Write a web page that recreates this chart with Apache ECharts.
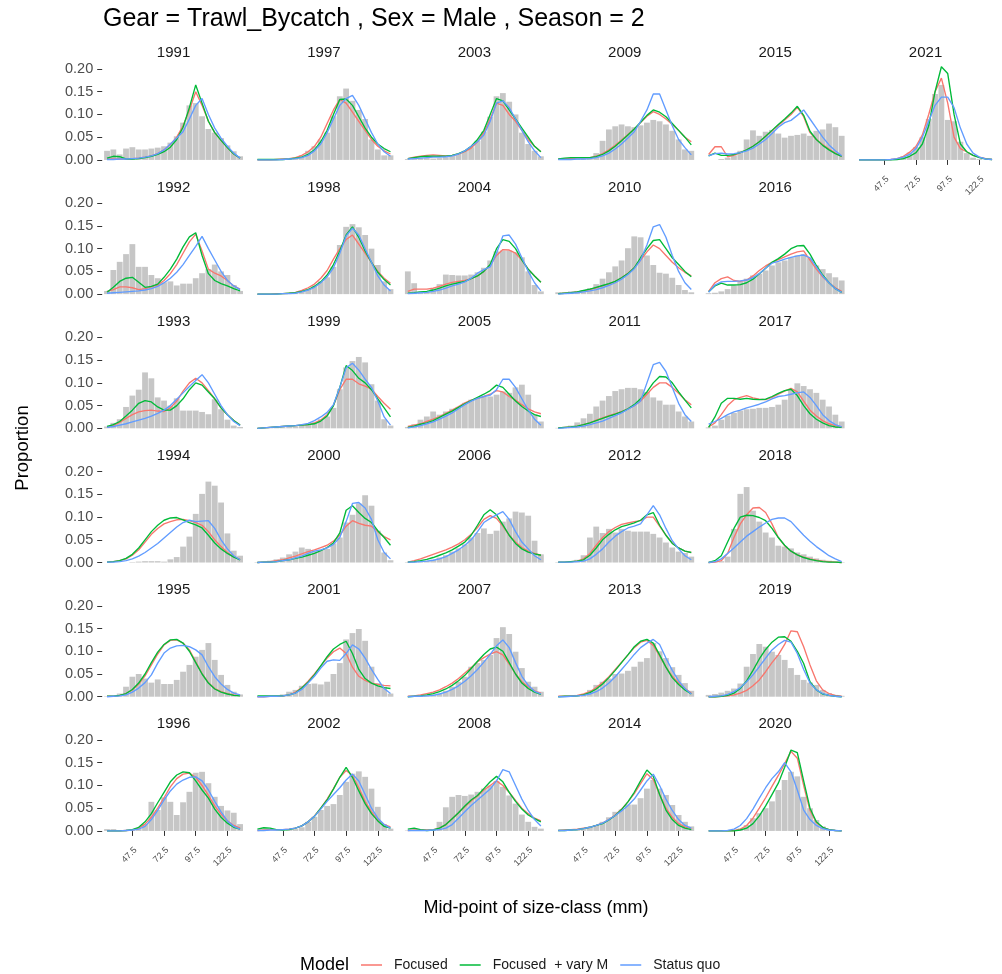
<!DOCTYPE html>
<html><head><meta charset="utf-8">
<script src="https://cdn.jsdelivr.net/npm/echarts@6/dist/echarts.min.js"></script>
<style>html,body{margin:0;padding:0;background:#fff}#c{width:1002px;height:974px}</style>
</head><body><div id="c"></div>
<script>
const sizeClasses = [27.5,32.5,37.5,42.5,47.5,52.5,57.5,62.5,67.5,72.5,77.5,82.5,87.5,92.5,97.5,102.5,107.5,112.5,117.5,122.5,127.5,132.5];
const xTickValues = [47.5,72.5,97.5,122.5];
const yTickValues = [0,0.05,0.10,0.15,0.20];
const modelNames = ['Focused','Focused  + vary M','Status quo'];
const modelColors = ['#F8766D','#00BA38','#619CFF'];

// ---- 1991 ----
const obs_1991 = [0.02,0.023,0.012,0.025,0.028,0.023,0.023,0.025,0.027,0.03,0.038,0.052,0.082,0.12,0.125,0.096,0.068,0.06,0.048,0.032,0.019,0.008];
const focused_1991 = [0.002,0.002,0.002,0.002,0.003,0.004,0.006,0.009,0.014,0.022,0.034,0.05,0.075,0.11,0.15,0.12,0.085,0.06,0.043,0.027,0.013,0.004];
const focusedM_1991 = [0.004,0.008,0.007,0.002,0.002,0.003,0.005,0.008,0.012,0.018,0.028,0.045,0.072,0.115,0.165,0.125,0.085,0.06,0.043,0.027,0.013,0.004];
const statusQuo_1991 = [0.001,0.001,0.002,0.002,0.003,0.004,0.006,0.009,0.014,0.022,0.035,0.048,0.062,0.09,0.12,0.135,0.1,0.07,0.048,0.03,0.015,0.004];
// ---- 1992 ----
const obs_1992 = [0.007,0.053,0.071,0.088,0.11,0.06,0.06,0.042,0.035,0.026,0.028,0.019,0.023,0.023,0.035,0.046,0.055,0.065,0.05,0.042,0.02,0.007];
const focused_1992 = [0.006,0.01,0.016,0.016,0.014,0.01,0.012,0.016,0.02,0.03,0.045,0.065,0.09,0.115,0.132,0.095,0.055,0.046,0.04,0.03,0.018,0.011];
const focusedM_1992 = [0.004,0.015,0.028,0.035,0.037,0.026,0.015,0.017,0.022,0.037,0.055,0.077,0.104,0.126,0.135,0.085,0.045,0.03,0.023,0.018,0.012,0.007];
const statusQuo_1992 = [0.002,0.003,0.004,0.005,0.006,0.007,0.009,0.012,0.017,0.025,0.035,0.048,0.065,0.085,0.105,0.127,0.1,0.075,0.05,0.03,0.018,0.01];
// ---- 1993 ----
const obs_1993 = [0.004,0.012,0.02,0.047,0.072,0.085,0.123,0.11,0.068,0.061,0.05,0.066,0.039,0.039,0.039,0.036,0.031,0.064,0.042,0.019,0.006,0.003];
const focused_1993 = [0.002,0.006,0.013,0.022,0.03,0.036,0.039,0.04,0.038,0.037,0.045,0.06,0.082,0.1,0.11,0.1,0.083,0.065,0.045,0.03,0.017,0.007];
const focusedM_1993 = [0.004,0.008,0.015,0.027,0.04,0.055,0.061,0.058,0.047,0.04,0.04,0.05,0.065,0.085,0.1,0.095,0.08,0.065,0.045,0.03,0.017,0.007];
const statusQuo_1993 = [0.002,0.004,0.007,0.01,0.014,0.018,0.022,0.027,0.033,0.04,0.05,0.064,0.078,0.092,0.105,0.118,0.1,0.075,0.05,0.03,0.015,0.006];
// ---- 1994 ----
const obs_1994 = [0,0,0,0,0.001,0.002,0.003,0.003,0.003,0.002,0.007,0.012,0.035,0.057,0.107,0.151,0.178,0.169,0.132,0.064,0.026,0.015];
const focused_1994 = [0.001,0.002,0.004,0.008,0.016,0.028,0.045,0.062,0.075,0.085,0.09,0.094,0.095,0.092,0.088,0.082,0.068,0.05,0.035,0.022,0.013,0.007];
const focusedM_1994 = [0.001,0.002,0.004,0.009,0.018,0.032,0.05,0.068,0.082,0.093,0.098,0.099,0.094,0.088,0.083,0.076,0.06,0.043,0.03,0.02,0.012,0.006];
const statusQuo_1994 = [0.001,0.001,0.002,0.004,0.008,0.014,0.022,0.032,0.042,0.054,0.066,0.078,0.088,0.093,0.09,0.091,0.092,0.075,0.05,0.03,0.015,0.006];
// ---- 1995 ----
const obs_1995 = [0.001,0.002,0.007,0.022,0.044,0.05,0.04,0.031,0.038,0.028,0.028,0.037,0.055,0.07,0.088,0.103,0.118,0.081,0.048,0.026,0.011,0.005];
const focused_1995 = [0.001,0.001,0.003,0.007,0.015,0.028,0.046,0.07,0.094,0.114,0.124,0.125,0.118,0.103,0.077,0.051,0.031,0.018,0.011,0.007,0.004,0.003];
const focusedM_1995 = [0.001,0.001,0.003,0.007,0.016,0.03,0.05,0.075,0.098,0.115,0.125,0.126,0.118,0.1,0.075,0.05,0.03,0.017,0.01,0.006,0.003,0.002];
const statusQuo_1995 = [0,0.001,0.002,0.004,0.01,0.019,0.031,0.048,0.074,0.096,0.107,0.112,0.113,0.11,0.103,0.092,0.066,0.044,0.028,0.016,0.008,0.004];
// ---- 1996 ----
const obs_1996 = [0.004,0.004,0.001,0.001,0.002,0.004,0.015,0.064,0.046,0.074,0.064,0.035,0.063,0.086,0.128,0.13,0.105,0.075,0.055,0.045,0.04,0.015];
const focused_1996 = [0,0,0,0.001,0.002,0.006,0.015,0.03,0.05,0.073,0.097,0.115,0.125,0.127,0.118,0.1,0.078,0.055,0.037,0.022,0.012,0.006];
const focusedM_1996 = [0,0,0,0.001,0.003,0.008,0.02,0.038,0.062,0.085,0.108,0.123,0.13,0.128,0.11,0.09,0.072,0.048,0.03,0.017,0.008,0.004];
const statusQuo_1996 = [0,0,0,0.001,0.002,0.004,0.01,0.025,0.045,0.068,0.088,0.103,0.112,0.118,0.119,0.11,0.09,0.065,0.042,0.022,0.01,0.004];
// ---- 1997 ----
const obs_1997 = [0,0,0,0,0.001,0.002,0.004,0.01,0.02,0.03,0.045,0.06,0.096,0.14,0.157,0.13,0.11,0.09,0.045,0.023,0.01,0.01];
const focused_1997 = [0,0,0,0.001,0.002,0.003,0.005,0.01,0.018,0.03,0.05,0.08,0.11,0.133,0.125,0.105,0.085,0.065,0.045,0.03,0.02,0.013];
const focusedM_1997 = [0.001,0.001,0.001,0.001,0.001,0.002,0.004,0.006,0.012,0.022,0.04,0.065,0.1,0.133,0.134,0.12,0.095,0.07,0.05,0.035,0.025,0.018];
const statusQuo_1997 = [0,0,0,0,0.001,0.002,0.003,0.005,0.01,0.02,0.035,0.06,0.09,0.12,0.135,0.142,0.12,0.09,0.06,0.035,0.018,0.008];
// ---- 1998 ----
const obs_1998 = [0,0,0,0,0,0.002,0.004,0.007,0.012,0.019,0.028,0.037,0.06,0.108,0.148,0.154,0.147,0.13,0.1,0.064,0.028,0.011];
const focused_1998 = [0,0,0,0.001,0.001,0.002,0.004,0.008,0.014,0.022,0.035,0.052,0.077,0.1,0.12,0.13,0.11,0.09,0.07,0.05,0.035,0.024];
const focusedM_1998 = [0,0,0,0,0.001,0.002,0.003,0.006,0.01,0.017,0.027,0.042,0.065,0.095,0.13,0.148,0.125,0.095,0.07,0.048,0.032,0.02];
const statusQuo_1998 = [0,0,0,0,0.001,0.001,0.002,0.005,0.009,0.015,0.025,0.038,0.058,0.09,0.128,0.145,0.13,0.1,0.07,0.04,0.02,0.007];
// ---- 1999 ----
const obs_1999 = [0,0,0.001,0.001,0.002,0.003,0.004,0.006,0.009,0.013,0.02,0.026,0.045,0.086,0.134,0.148,0.157,0.145,0.097,0.061,0.02,0.006];
const focused_1999 = [0,0.001,0.002,0.003,0.004,0.005,0.006,0.007,0.008,0.012,0.018,0.03,0.05,0.085,0.108,0.108,0.098,0.093,0.086,0.07,0.055,0.042];
const focusedM_1999 = [0,0.001,0.002,0.003,0.004,0.005,0.006,0.007,0.008,0.01,0.016,0.027,0.05,0.09,0.138,0.127,0.11,0.1,0.085,0.065,0.045,0.025];
const statusQuo_1999 = [0,0.001,0.002,0.003,0.004,0.005,0.006,0.008,0.011,0.017,0.025,0.035,0.052,0.09,0.133,0.143,0.128,0.108,0.09,0.06,0.025,0.007];
// ---- 2000 ----
const obs_2000 = [0.001,0.002,0.004,0.007,0.011,0.018,0.024,0.033,0.03,0.025,0.028,0.03,0.042,0.055,0.088,0.105,0.13,0.148,0.125,0.07,0.022,0.005];
const focused_2000 = [0,0.001,0.002,0.004,0.006,0.01,0.014,0.019,0.024,0.028,0.033,0.038,0.047,0.06,0.08,0.092,0.086,0.082,0.08,0.068,0.057,0.05];
const focusedM_2000 = [0,0.001,0.001,0.002,0.004,0.006,0.009,0.012,0.016,0.02,0.026,0.033,0.043,0.065,0.115,0.125,0.11,0.097,0.088,0.07,0.055,0.038];
const statusQuo_2000 = [0,0.001,0.001,0.002,0.004,0.006,0.01,0.014,0.02,0.025,0.028,0.032,0.04,0.055,0.09,0.13,0.132,0.12,0.095,0.05,0.022,0.008];
// ---- 2001 ----
const obs_2001 = [0,0,0.001,0.002,0.005,0.011,0.015,0.024,0.028,0.029,0.027,0.033,0.05,0.074,0.126,0.14,0.149,0.123,0.066,0.03,0.022,0.007];
const focused_2001 = [0,0,0.001,0.001,0.002,0.004,0.01,0.02,0.034,0.05,0.068,0.085,0.099,0.107,0.095,0.065,0.045,0.036,0.03,0.027,0.025,0.024];
const focusedM_2001 = [0.002,0.002,0.002,0.002,0.002,0.004,0.008,0.019,0.032,0.048,0.068,0.088,0.105,0.115,0.122,0.095,0.06,0.04,0.03,0.024,0.02,0.018];
const statusQuo_2001 = [0,0,0.001,0.001,0.002,0.004,0.008,0.016,0.03,0.045,0.063,0.078,0.081,0.08,0.095,0.114,0.105,0.085,0.06,0.038,0.018,0.007];
// ---- 2002 ----
const obs_2002 = [0,0,0,0.001,0.001,0.002,0.004,0.008,0.02,0.031,0.046,0.055,0.059,0.079,0.108,0.126,0.131,0.119,0.093,0.053,0.015,0.005];
const focused_2002 = [0.001,0.002,0.003,0.003,0.003,0.004,0.006,0.011,0.02,0.033,0.05,0.07,0.093,0.118,0.133,0.122,0.095,0.065,0.042,0.025,0.014,0.009];
const focusedM_2002 = [0.004,0.007,0.006,0.003,0.002,0.003,0.006,0.011,0.02,0.032,0.05,0.068,0.092,0.118,0.14,0.118,0.088,0.06,0.038,0.022,0.01,0.006];
const statusQuo_2002 = [0.001,0.001,0.002,0.002,0.003,0.004,0.006,0.011,0.02,0.032,0.048,0.065,0.08,0.095,0.112,0.125,0.11,0.08,0.05,0.028,0.014,0.006];
// ---- 2003 ----
const obs_2003 = [0.002,0.003,0.004,0.004,0.003,0.004,0.006,0.009,0.013,0.02,0.028,0.042,0.062,0.095,0.14,0.147,0.128,0.1,0.06,0.035,0.02,0.008];
const focused_2003 = [0.003,0.006,0.008,0.01,0.011,0.01,0.009,0.01,0.013,0.018,0.026,0.04,0.06,0.09,0.125,0.12,0.1,0.085,0.065,0.045,0.03,0.018];
const focusedM_2003 = [0.003,0.005,0.007,0.008,0.008,0.008,0.008,0.01,0.014,0.02,0.03,0.045,0.065,0.1,0.135,0.13,0.11,0.09,0.07,0.05,0.03,0.018];
const statusQuo_2003 = [0.002,0.003,0.004,0.005,0.006,0.006,0.007,0.009,0.013,0.02,0.03,0.04,0.055,0.085,0.125,0.13,0.115,0.09,0.065,0.04,0.02,0.005];
// ---- 2004 ----
const obs_2004 = [0.05,0.024,0.006,0.005,0.013,0.022,0.043,0.042,0.041,0.041,0.043,0.048,0.058,0.074,0.094,0.096,0.096,0.092,0.081,0.05,0.02,0.006];
const focused_2004 = [0.006,0.011,0.011,0.011,0.013,0.017,0.022,0.026,0.028,0.03,0.034,0.04,0.05,0.064,0.085,0.098,0.097,0.09,0.075,0.055,0.04,0.026];
const focusedM_2004 = [0.002,0.003,0.005,0.006,0.009,0.013,0.018,0.022,0.025,0.028,0.034,0.04,0.05,0.065,0.1,0.12,0.116,0.1,0.075,0.055,0.04,0.026];
const statusQuo_2004 = [0.001,0.002,0.003,0.004,0.006,0.009,0.013,0.018,0.022,0.027,0.035,0.046,0.054,0.06,0.09,0.128,0.13,0.11,0.08,0.05,0.025,0.007];
// ---- 2005 ----
const obs_2005 = [0.003,0.009,0.019,0.026,0.037,0.03,0.037,0.043,0.047,0.056,0.063,0.067,0.069,0.07,0.074,0.081,0.078,0.09,0.096,0.074,0.03,0.015];
const focused_2005 = [0.004,0.007,0.01,0.015,0.02,0.026,0.033,0.04,0.048,0.056,0.062,0.066,0.07,0.075,0.083,0.08,0.07,0.062,0.052,0.043,0.036,0.032];
const focusedM_2005 = [0.002,0.005,0.009,0.012,0.017,0.024,0.031,0.038,0.046,0.054,0.061,0.068,0.075,0.083,0.095,0.09,0.075,0.06,0.048,0.038,0.03,0.026];
const statusQuo_2005 = [0.001,0.003,0.006,0.01,0.014,0.02,0.027,0.034,0.043,0.052,0.06,0.066,0.07,0.073,0.085,0.108,0.108,0.09,0.065,0.04,0.02,0.007];
// ---- 2006 ----
const obs_2006 = [0.001,0.002,0.003,0.004,0.006,0.011,0.016,0.024,0.031,0.04,0.055,0.065,0.075,0.063,0.07,0.09,0.097,0.112,0.11,0.103,0.048,0.018];
const focused_2006 = [0.001,0.004,0.008,0.013,0.018,0.023,0.028,0.034,0.041,0.05,0.062,0.077,0.095,0.103,0.097,0.08,0.06,0.045,0.033,0.025,0.02,0.016];
const focusedM_2006 = [0.001,0.002,0.004,0.007,0.011,0.016,0.021,0.028,0.036,0.045,0.06,0.082,0.105,0.116,0.105,0.083,0.06,0.042,0.03,0.023,0.019,0.016];
const statusQuo_2006 = [0.001,0.001,0.002,0.003,0.005,0.008,0.013,0.02,0.028,0.038,0.05,0.068,0.088,0.097,0.105,0.112,0.095,0.068,0.045,0.03,0.015,0.006];
// ---- 2007 ----
const obs_2007 = [0,0.001,0.002,0.003,0.005,0.007,0.013,0.022,0.033,0.044,0.066,0.074,0.081,0.092,0.129,0.153,0.138,0.099,0.063,0.033,0.022,0.011];
const focused_2007 = [0.001,0.002,0.004,0.007,0.01,0.015,0.022,0.03,0.04,0.052,0.064,0.077,0.086,0.094,0.099,0.092,0.072,0.05,0.033,0.022,0.013,0.008];
const focusedM_2007 = [0,0.001,0.002,0.004,0.007,0.011,0.017,0.025,0.035,0.047,0.062,0.078,0.093,0.105,0.109,0.1,0.075,0.05,0.03,0.018,0.01,0.005];
const statusQuo_2007 = [0,0.001,0.001,0.002,0.003,0.006,0.01,0.016,0.024,0.034,0.046,0.06,0.076,0.093,0.112,0.125,0.108,0.075,0.045,0.025,0.012,0.006];
// ---- 2008 ----
const obs_2008 = [0.001,0.001,0.001,0.002,0.004,0.02,0.052,0.075,0.079,0.077,0.08,0.086,0.093,0.1,0.11,0.097,0.078,0.06,0.036,0.02,0.009,0.005];
const focused_2008 = [0.001,0.002,0.002,0.002,0.003,0.006,0.014,0.027,0.04,0.053,0.066,0.077,0.09,0.1,0.11,0.1,0.085,0.067,0.05,0.038,0.028,0.022];
const focusedM_2008 = [0.004,0.006,0.003,0.001,0.002,0.006,0.014,0.027,0.04,0.055,0.068,0.078,0.093,0.108,0.12,0.108,0.085,0.065,0.048,0.035,0.027,0.02];
const statusQuo_2008 = [0.001,0.001,0.001,0.001,0.002,0.003,0.006,0.014,0.028,0.042,0.056,0.068,0.08,0.092,0.11,0.135,0.13,0.1,0.07,0.045,0.025,0.011];
// ---- 2009 ----
const obs_2009 = [0,0,0.001,0.002,0.002,0.003,0.015,0.042,0.067,0.074,0.078,0.074,0.072,0.076,0.082,0.088,0.085,0.078,0.064,0.045,0.023,0.02];
const focused_2009 = [0.002,0.003,0.003,0.004,0.004,0.005,0.008,0.014,0.022,0.032,0.044,0.056,0.068,0.082,0.096,0.106,0.1,0.09,0.078,0.065,0.05,0.04];
const focusedM_2009 = [0.002,0.004,0.005,0.005,0.005,0.005,0.007,0.012,0.02,0.03,0.042,0.055,0.068,0.083,0.098,0.11,0.105,0.095,0.08,0.065,0.05,0.033];
const statusQuo_2009 = [0.001,0.001,0.001,0.002,0.002,0.003,0.005,0.009,0.015,0.024,0.035,0.048,0.062,0.085,0.11,0.145,0.145,0.11,0.075,0.045,0.027,0.011];
// ---- 2010 ----
const obs_2010 = [0.004,0.004,0.006,0.007,0.009,0.013,0.022,0.034,0.048,0.061,0.074,0.101,0.127,0.125,0.085,0.064,0.047,0.045,0.036,0.02,0.009,0.004];
const focused_2010 = [0.001,0.002,0.003,0.005,0.007,0.01,0.014,0.018,0.022,0.028,0.036,0.046,0.058,0.075,0.093,0.108,0.1,0.085,0.07,0.058,0.048,0.04];
const focusedM_2010 = [0.001,0.002,0.003,0.005,0.008,0.011,0.015,0.019,0.023,0.028,0.036,0.045,0.058,0.08,0.1,0.118,0.12,0.1,0.08,0.065,0.05,0.038];
const statusQuo_2010 = [0,0.001,0.002,0.003,0.005,0.007,0.01,0.014,0.019,0.025,0.033,0.043,0.056,0.075,0.108,0.148,0.153,0.125,0.085,0.05,0.025,0.01];
// ---- 2011 ----
const obs_2011 = [0.001,0.003,0.006,0.013,0.022,0.032,0.048,0.061,0.071,0.082,0.086,0.089,0.089,0.086,0.08,0.068,0.061,0.052,0.052,0.037,0.026,0.015];
const focused_2011 = [0.001,0.002,0.003,0.005,0.008,0.012,0.018,0.023,0.028,0.032,0.037,0.043,0.05,0.06,0.075,0.09,0.1,0.1,0.09,0.077,0.063,0.052];
const focusedM_2011 = [0.001,0.002,0.003,0.005,0.008,0.012,0.017,0.022,0.027,0.031,0.036,0.043,0.052,0.065,0.08,0.1,0.114,0.113,0.1,0.08,0.062,0.045];
const statusQuo_2011 = [0,0.001,0.002,0.003,0.005,0.008,0.012,0.016,0.022,0.028,0.034,0.042,0.05,0.06,0.1,0.14,0.145,0.125,0.09,0.055,0.03,0.015];
// ---- 2012 ----
const obs_2012 = [0.001,0.001,0.002,0.006,0.016,0.055,0.079,0.065,0.074,0.066,0.074,0.07,0.068,0.068,0.068,0.063,0.055,0.044,0.033,0.024,0.021,0.013];
const focused_2012 = [0.001,0.001,0.002,0.003,0.008,0.02,0.038,0.055,0.068,0.077,0.084,0.087,0.09,0.092,0.1,0.1,0.08,0.06,0.043,0.032,0.025,0.022];
const focusedM_2012 = [0.001,0.001,0.002,0.003,0.006,0.016,0.032,0.05,0.062,0.072,0.079,0.083,0.087,0.093,0.105,0.11,0.082,0.06,0.042,0.032,0.025,0.022];
const statusQuo_2012 = [0.001,0.001,0.001,0.002,0.003,0.008,0.018,0.03,0.045,0.058,0.068,0.076,0.08,0.085,0.105,0.125,0.105,0.075,0.048,0.03,0.015,0.006];
// ---- 2013 ----
const obs_2013 = [0,0.001,0.002,0.004,0.006,0.015,0.026,0.033,0.04,0.05,0.051,0.057,0.066,0.077,0.085,0.118,0.1,0.085,0.065,0.048,0.03,0.013];
const focused_2013 = [0.001,0.001,0.002,0.003,0.006,0.011,0.02,0.031,0.044,0.06,0.076,0.092,0.108,0.12,0.124,0.113,0.09,0.065,0.045,0.03,0.018,0.008];
const focusedM_2013 = [0,0.001,0.001,0.002,0.004,0.009,0.017,0.028,0.042,0.058,0.075,0.092,0.11,0.122,0.126,0.118,0.092,0.065,0.042,0.027,0.015,0.006];
const statusQuo_2013 = [0,0,0.001,0.002,0.003,0.006,0.011,0.019,0.03,0.044,0.06,0.076,0.093,0.108,0.118,0.126,0.115,0.085,0.058,0.035,0.018,0.006];
// ---- 2014 ----
const obs_2014 = [0,0.001,0.001,0.002,0.004,0.008,0.013,0.02,0.03,0.042,0.047,0.058,0.058,0.072,0.093,0.112,0.093,0.079,0.057,0.035,0.02,0.01];
const focused_2014 = [0.001,0.002,0.003,0.004,0.006,0.008,0.012,0.017,0.025,0.035,0.048,0.064,0.082,0.104,0.126,0.113,0.08,0.05,0.03,0.016,0.009,0.005];
const focusedM_2014 = [0.001,0.001,0.002,0.003,0.005,0.008,0.012,0.016,0.024,0.034,0.047,0.064,0.085,0.11,0.134,0.12,0.08,0.046,0.025,0.012,0.006,0.003];
const statusQuo_2014 = [0.001,0.001,0.002,0.003,0.005,0.008,0.012,0.017,0.025,0.034,0.044,0.056,0.07,0.09,0.11,0.125,0.1,0.07,0.045,0.025,0.012,0.006];
// ---- 2015 ----
const obs_2015 = [0,0,0.002,0.005,0.01,0.02,0.045,0.065,0.053,0.062,0.066,0.058,0.049,0.053,0.055,0.058,0.053,0.064,0.067,0.08,0.072,0.053];
const focused_2015 = [0.012,0.029,0.029,0.007,0.01,0.016,0.022,0.03,0.04,0.052,0.064,0.076,0.088,0.1,0.116,0.095,0.06,0.045,0.034,0.024,0.015,0.008];
const focusedM_2015 = [0.009,0.015,0.01,0.01,0.012,0.016,0.022,0.03,0.04,0.052,0.065,0.078,0.09,0.103,0.118,0.098,0.063,0.045,0.032,0.022,0.014,0.008];
const statusQuo_2015 = [0.009,0.014,0.015,0.013,0.014,0.016,0.02,0.026,0.035,0.045,0.058,0.072,0.082,0.087,0.098,0.11,0.09,0.07,0.05,0.033,0.02,0.009];
// ---- 2016 ----
const obs_2016 = [0.002,0.003,0.006,0.011,0.019,0.028,0.034,0.041,0.045,0.052,0.063,0.07,0.074,0.081,0.085,0.088,0.079,0.063,0.055,0.046,0.037,0.03];
const focused_2016 = [0.006,0.025,0.034,0.038,0.03,0.028,0.031,0.04,0.052,0.062,0.07,0.076,0.082,0.088,0.093,0.095,0.075,0.055,0.038,0.025,0.014,0.006];
const focusedM_2016 = [0.005,0.018,0.024,0.02,0.02,0.021,0.025,0.033,0.045,0.057,0.07,0.078,0.088,0.1,0.106,0.107,0.088,0.063,0.042,0.025,0.012,0.004];
const statusQuo_2016 = [0.004,0.02,0.027,0.028,0.028,0.029,0.031,0.036,0.045,0.057,0.068,0.072,0.077,0.081,0.084,0.086,0.08,0.06,0.04,0.025,0.012,0.004];
// ---- 2017 ----
const obs_2017 = [0.002,0.006,0.019,0.028,0.034,0.039,0.042,0.043,0.045,0.045,0.047,0.052,0.063,0.086,0.099,0.093,0.086,0.078,0.063,0.048,0.03,0.015];
const focused_2017 = [0.003,0.012,0.03,0.05,0.063,0.068,0.072,0.067,0.064,0.063,0.068,0.075,0.082,0.088,0.08,0.06,0.04,0.027,0.017,0.01,0.006,0.003];
const focusedM_2017 = [0.002,0.025,0.055,0.066,0.066,0.064,0.066,0.064,0.063,0.064,0.07,0.077,0.083,0.086,0.072,0.05,0.032,0.02,0.012,0.006,0.003,0.002];
const statusQuo_2017 = [0.009,0.015,0.022,0.03,0.036,0.04,0.045,0.049,0.053,0.058,0.065,0.07,0.072,0.075,0.078,0.08,0.068,0.05,0.03,0.017,0.008,0.003];
// ---- 2018 ----
const obs_2018 = [0,0.001,0.003,0.013,0.074,0.151,0.166,0.114,0.09,0.066,0.055,0.037,0.035,0.031,0.022,0.018,0.013,0.009,0.006,0.004,0.002,0.001];
const focused_2018 = [0,0.001,0.004,0.02,0.055,0.085,0.105,0.12,0.121,0.11,0.085,0.055,0.037,0.025,0.017,0.012,0.008,0.005,0.003,0.002,0.001,0];
const focusedM_2018 = [0,0.004,0.015,0.045,0.075,0.1,0.104,0.103,0.099,0.092,0.075,0.055,0.038,0.025,0.017,0.011,0.007,0.004,0.002,0.001,0.001,0];
const statusQuo_2018 = [0,0.002,0.008,0.02,0.032,0.045,0.058,0.068,0.078,0.087,0.095,0.098,0.098,0.09,0.075,0.06,0.047,0.035,0.025,0.015,0.008,0.002];
// ---- 2019 ----
const obs_2019 = [0.004,0.006,0.009,0.013,0.018,0.029,0.066,0.094,0.116,0.11,0.099,0.092,0.081,0.063,0.048,0.037,0.031,0.026,0.015,0.008,0.004,0.002];
const focused_2019 = [0,0,0.001,0.002,0.004,0.008,0.014,0.024,0.037,0.055,0.075,0.092,0.115,0.145,0.143,0.11,0.07,0.035,0.015,0.007,0.003,0.001];
const focusedM_2019 = [0,0,0.001,0.003,0.008,0.018,0.035,0.058,0.083,0.104,0.12,0.131,0.132,0.122,0.1,0.073,0.033,0.015,0.006,0.003,0.001,0];
const statusQuo_2019 = [0,0.001,0.002,0.005,0.011,0.02,0.033,0.048,0.066,0.085,0.103,0.115,0.124,0.12,0.095,0.06,0.03,0.015,0.007,0.003,0.001,0];
// ---- 2020 ----
const obs_2020 = [0,0,0,0,0.001,0.005,0.013,0.028,0.039,0.05,0.065,0.09,0.112,0.13,0.12,0.075,0.05,0.024,0.01,0.003,0.001,0];
const focused_2020 = [0,0,0,0,0.001,0.004,0.012,0.028,0.05,0.073,0.098,0.122,0.148,0.175,0.16,0.1,0.045,0.018,0.008,0.003,0.001,0];
const focusedM_2020 = [0,0,0,0,0,0.002,0.006,0.016,0.033,0.055,0.08,0.105,0.14,0.178,0.172,0.11,0.05,0.02,0.008,0.003,0.001,0];
const statusQuo_2020 = [0,0,0,0.001,0.004,0.012,0.027,0.048,0.072,0.095,0.115,0.13,0.15,0.13,0.09,0.046,0.025,0.012,0.005,0.002,0.001,0];
// ---- 2021 ----
const obs_2021 = [0,0,0,0,0,0.001,0.003,0.008,0.016,0.028,0.05,0.09,0.145,0.165,0.088,0.085,0.04,0.015,0.005,0.002,0,0];
const focused_2021 = [0,0,0,0,0,0.001,0.003,0.008,0.017,0.03,0.055,0.1,0.15,0.18,0.125,0.05,0.025,0.018,0.01,0.006,0.003,0.001];
const focusedM_2021 = [0,0,0,0,0,0,0.001,0.003,0.008,0.016,0.035,0.075,0.15,0.205,0.19,0.1,0.035,0.018,0.01,0.005,0.002,0.001];
const statusQuo_2021 = [0,0,0,0,0,0.001,0.003,0.006,0.012,0.025,0.05,0.085,0.12,0.138,0.138,0.115,0.07,0.035,0.015,0.006,0.002,0.001];

const panels = [
  [1991,obs_1991,focused_1991,focusedM_1991,statusQuo_1991],
  [1992,obs_1992,focused_1992,focusedM_1992,statusQuo_1992],
  [1993,obs_1993,focused_1993,focusedM_1993,statusQuo_1993],
  [1994,obs_1994,focused_1994,focusedM_1994,statusQuo_1994],
  [1995,obs_1995,focused_1995,focusedM_1995,statusQuo_1995],
  [1996,obs_1996,focused_1996,focusedM_1996,statusQuo_1996],
  [1997,obs_1997,focused_1997,focusedM_1997,statusQuo_1997],
  [1998,obs_1998,focused_1998,focusedM_1998,statusQuo_1998],
  [1999,obs_1999,focused_1999,focusedM_1999,statusQuo_1999],
  [2000,obs_2000,focused_2000,focusedM_2000,statusQuo_2000],
  [2001,obs_2001,focused_2001,focusedM_2001,statusQuo_2001],
  [2002,obs_2002,focused_2002,focusedM_2002,statusQuo_2002],
  [2003,obs_2003,focused_2003,focusedM_2003,statusQuo_2003],
  [2004,obs_2004,focused_2004,focusedM_2004,statusQuo_2004],
  [2005,obs_2005,focused_2005,focusedM_2005,statusQuo_2005],
  [2006,obs_2006,focused_2006,focusedM_2006,statusQuo_2006],
  [2007,obs_2007,focused_2007,focusedM_2007,statusQuo_2007],
  [2008,obs_2008,focused_2008,focusedM_2008,statusQuo_2008],
  [2009,obs_2009,focused_2009,focusedM_2009,statusQuo_2009],
  [2010,obs_2010,focused_2010,focusedM_2010,statusQuo_2010],
  [2011,obs_2011,focused_2011,focusedM_2011,statusQuo_2011],
  [2012,obs_2012,focused_2012,focusedM_2012,statusQuo_2012],
  [2013,obs_2013,focused_2013,focusedM_2013,statusQuo_2013],
  [2014,obs_2014,focused_2014,focusedM_2014,statusQuo_2014],
  [2015,obs_2015,focused_2015,focusedM_2015,statusQuo_2015],
  [2016,obs_2016,focused_2016,focusedM_2016,statusQuo_2016],
  [2017,obs_2017,focused_2017,focusedM_2017,statusQuo_2017],
  [2018,obs_2018,focused_2018,focusedM_2018,statusQuo_2018],
  [2019,obs_2019,focused_2019,focusedM_2019,statusQuo_2019],
  [2020,obs_2020,focused_2020,focusedM_2020,statusQuo_2020],
  [2021,obs_2021,focused_2021,focusedM_2021,statusQuo_2021]
];

panels.forEach(p => p.slice(1).forEach((a, j) => {
  if (a.length !== sizeClasses.length) throw new Error('length mismatch ' + p[0] + ' #' + j + ': ' + a.length);
}));

const FONT = "'Liberation Sans', Arial, Helvetica, sans-serif";
const X_MIN = 23.7, X_MAX = 136.3, Y_MIN = -0.0103, Y_MAX = 0.2163;
const PANEL_W = 142.7, PANEL_H = 103, COL0 = 102.2, COL_STEP = 150.4, ROW0 = 61.6, ROW_STEP = 134.2;

const grids = [], xAxes = [], yAxes = [], series = [], graphics = [];
panels.forEach((p, k) => {
  const year = p[0];
  const col = Math.floor((year - 1991) / 6), row = (year - 1991) % 6;
  const left = COL0 + COL_STEP * col, top = ROW0 + ROW_STEP * row;
  grids.push({ left: left, top: top, width: PANEL_W, height: PANEL_H });
  const showX = (row === 5) || (col === 5);
  const showY = (col === 0);
  xAxes.push({
    gridIndex: k, type: 'value', min: X_MIN, max: X_MAX,
    axisLine: { show: false }, splitLine: { show: false },
    axisTick: { show: showX, customValues: xTickValues, length: 5, lineStyle: { color: '#333333', width: 1 } },
    axisLabel: { show: showX, customValues: xTickValues, rotate: 45, align: 'right', verticalAlign: 'top',
      fontSize: 9, color: '#4d4d4d', margin: 10, fontFamily: FONT, formatter: v => v.toFixed(1) }
  });
  yAxes.push({
    gridIndex: k, type: 'value', min: Y_MIN, max: Y_MAX,
    axisLine: { show: false }, splitLine: { show: false },
    axisTick: { show: showY, customValues: yTickValues, length: 5, lineStyle: { color: '#333333', width: 1 } },
    axisLabel: { show: showY, customValues: yTickValues, fontSize: 14.5, color: '#4d4d4d', margin: 9,
      fontFamily: FONT, formatter: v => v.toFixed(2) }
  });
  graphics.push({
    type: 'text', x: left + PANEL_W / 2, y: 53.3 + ROW_STEP * row,
    style: { text: String(year), textAlign: 'center', textVerticalAlign: 'middle', align: 'center', verticalAlign: 'middle',
      fontSize: 15, fontFamily: FONT, fill: '#1a1a1a' }
  });
  series.push({
    type: 'bar', name: 'observed', xAxisIndex: k, yAxisIndex: k,
    data: sizeClasses.map((x, i) => [x, p[1][i]]),
    barWidth: 5.8, itemStyle: { color: '#c6c6c6' }, z: 2, silent: true
  });
  for (let m = 0; m < 3; m++) {
    series.push({
      type: 'line', name: modelNames[m], xAxisIndex: k, yAxisIndex: k,
      data: sizeClasses.map((x, i) => [x, p[2 + m][i]]),
      symbol: 'none', showSymbol: false, z: 3 + m,
      lineStyle: { width: 1.35, color: modelColors[m] }, itemStyle: { color: modelColors[m] }
    });
  }
});

graphics.push(
  { type: 'text', x: 103, y: 19, style: { text: 'Gear = Trawl_Bycatch , Sex = Male , Season = 2', textAlign: 'left', textVerticalAlign: 'middle', align: 'left', verticalAlign: 'middle', fontSize: 25, fontFamily: FONT, fill: '#000000' } },
  { type: 'text', x: 536, y: 908, style: { text: 'Mid-point of size-class (mm)', textAlign: 'center', textVerticalAlign: 'middle', align: 'center', verticalAlign: 'middle', fontSize: 18, fontFamily: FONT, fill: '#000000' } },
  { type: 'text', x: 23, y: 448, rotation: Math.PI / 2, style: { text: 'Proportion', textAlign: 'center', textVerticalAlign: 'middle', align: 'center', verticalAlign: 'middle', fontSize: 18.5, fontFamily: FONT, fill: '#000000' } },
  { type: 'text', x: 300, y: 965, style: { text: 'Model', textAlign: 'left', textVerticalAlign: 'middle', align: 'left', verticalAlign: 'middle', fontSize: 18, fontFamily: FONT, fill: '#000000' } }
);

const chart = echarts.init(document.getElementById('c'), null, { renderer: 'canvas' });
chart.setOption({
  backgroundColor: '#ffffff',
  animation: false,
  grid: grids, xAxis: xAxes, yAxis: yAxes, series: series,
  legend: {
    data: modelNames.map((n, m) => ({ name: n, icon: 'rect', itemStyle: { color: modelColors[m], opacity: 0.75 } })),
    left: 361, top: 958, padding: 0, itemWidth: 21, itemHeight: 2, itemGap: 12,
    textStyle: { fontSize: 14, color: '#1a1a1a', fontFamily: FONT, padding: [0, 0, 0, 7] }
  },
  graphic: graphics
});
</script>
</body></html>
